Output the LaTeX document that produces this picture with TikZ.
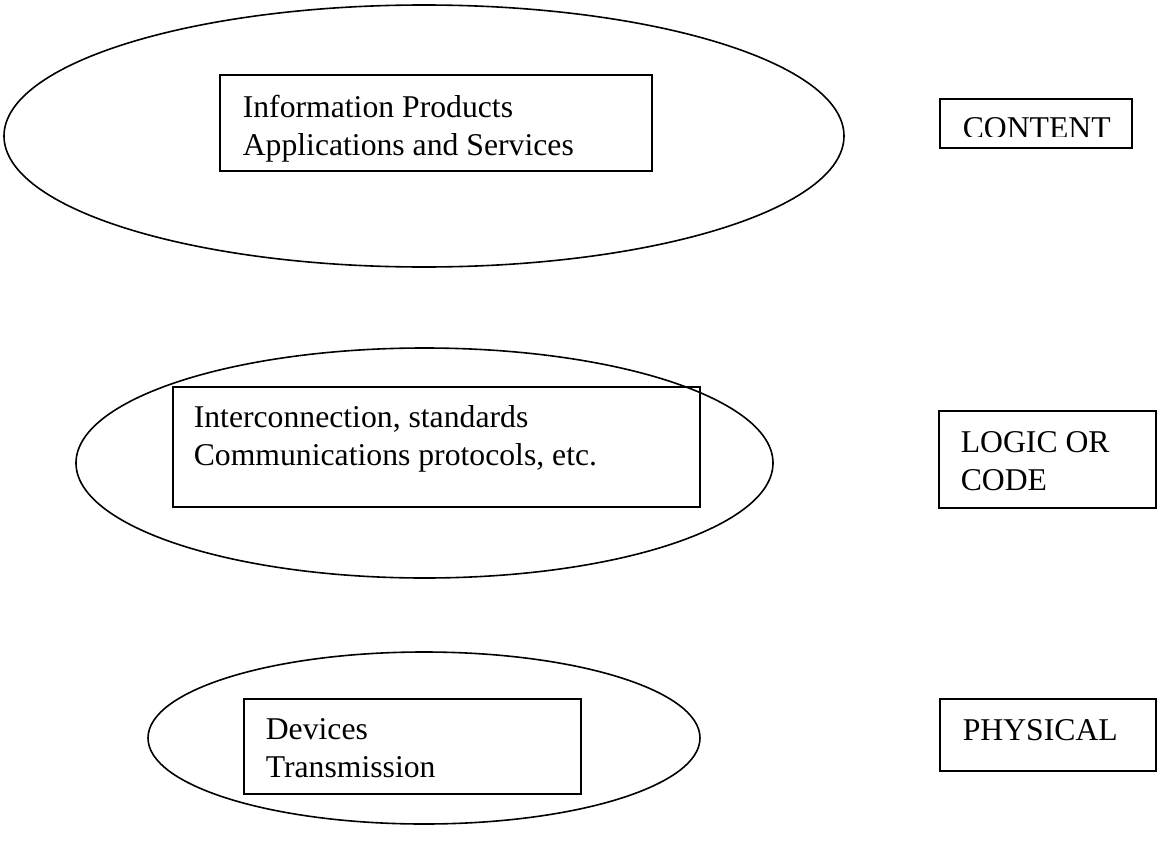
\documentclass[tikz,border=0pt]{standalone}
\usepackage{fontspec}
\setmainfont{Liberation Serif}
\usetikzlibrary{shapes.geometric}
\begin{document}
\begin{tikzpicture}[x=1pt,y=-1pt,line width=1.6pt,
  oval/.style={draw,ellipse,inner sep=0pt},
  box/.style={draw,rectangle,inner sep=0pt},
  lbl/.style={anchor=base west,inner sep=0pt,font=\fontsize{31.7}{38}\selectfont}]
\useasboundingbox (0,0) rectangle (1157,846);
% ellipses
\node[oval,minimum width=840pt,minimum height=262pt] (e1) at (424,136) {};
\node[oval,minimum width=697pt,minimum height=230pt] (e2) at (424.5,463) {};
\node[oval,minimum width=552pt,minimum height=172pt] (e3) at (424,738) {};
% boxes
\node[box,minimum width=432pt,minimum height=96pt] (b1) at (436,123) {};
\node[box,minimum width=527pt,minimum height=120pt] (b2) at (436.5,447) {};
\node[box,minimum width=337pt,minimum height=95pt] (b3) at (412.5,746.5) {};
\node[box,minimum width=192pt,minimum height=49pt] (r1) at (1036,123.5) {};
\node[box,minimum width=217pt,minimum height=97pt] (r2) at (1047.5,459.5) {};
\node[box,minimum width=216pt,minimum height=72pt] (r3) at (1048,735) {};
% texts
\node[lbl] (t1a) at (242,117) {Information Products};
\node[lbl] (t1b) at (242,155) {Applications and Services};
\node[lbl] (t2a) at (193,427) {Interconnection, standards};
\node[lbl] (t2b) at (193,465) {Communications protocols, etc.};
\node[lbl] (t3a) at (265,739) {Devices};
\node[lbl] (t3b) at (265,777) {Transmission};
\begin{scope}
\clip (941,100) rectangle (1131,136.5);
\node[lbl] (l1) at (962,138) {CONTENT};
\end{scope}
\node[lbl] (l2a) at (960,452) {LOGIC OR};
\node[lbl] (l2b) at (960,490) {CODE};
\node[lbl] (l3) at (962,740) {PHYSICAL};
\end{tikzpicture}
\end{document}
